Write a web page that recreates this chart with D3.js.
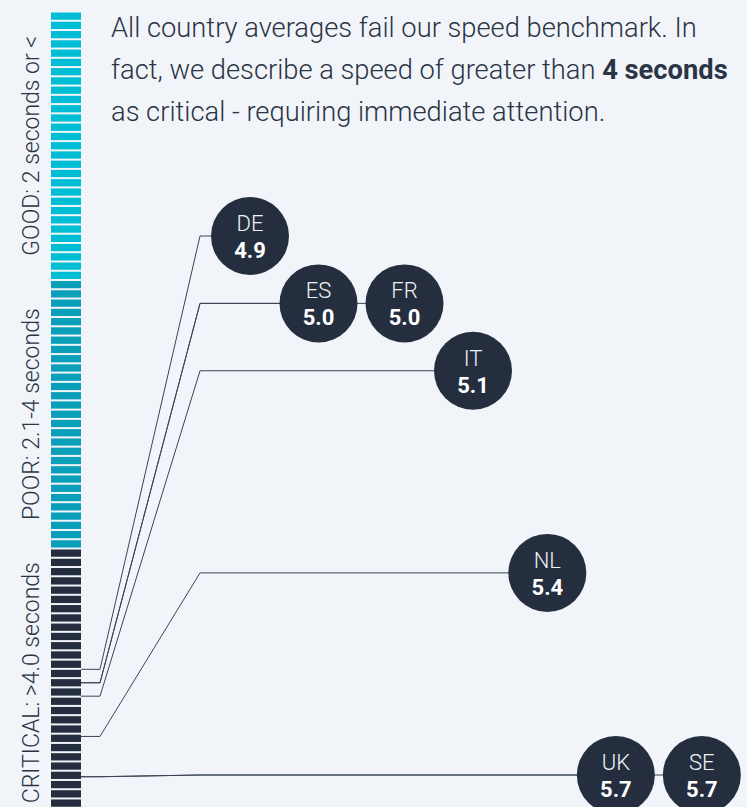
<!DOCTYPE html>
<html>
<head>
<meta charset="utf-8">
<script src="https://cdn.jsdelivr.net/npm/d3@7"></script>
<style>
  html, body { margin: 0; padding: 0; background: #f1f5f9; }
  svg { display: block; font-family: "Roboto Light", Roboto, "Noto Sans", sans-serif; }
</style>
</head>
<body>
<svg id="chart" width="747" height="807"></svg>
<script>
// ─── Data ──────────────────────────────────────
const countries = ['DE', 'ES', 'FR', 'IT', 'NL', 'UK', 'SE'];
const speeds    = [4.9, 5.0, 5.0, 5.1, 5.4, 5.7, 5.7];

const zoneLabels = ['GOOD: 2 seconds or <', 'POOR: 2.1-4 seconds', 'CRITICAL: >4.0 seconds'];
const zoneBounds = [0, 2, 4, 6];
const zoneColors = ['#00bdd6', '#099fb8', '#242e3e'];
const stripesPerZone = 29;

const titleLines = [
  [{ t: 'All country averages fail our speed benchmark. In', b: false }],
  [{ t: 'fact, we describe a speed of greater than ', b: false }, { t: '4 seconds', b: true }],
  [{ t: 'as critical - requiring immediate attention.', b: false }]
];

// ─── Setup ─────────────────────────────────────
const svg = d3.select('#chart');
const ink = '#2a3444';

// full seconds scale on the striped bar, and a zoomed scale for the bubbles
const yBar  = d3.scaleLinear().domain([0, 6]).range([11.5, 817]);
const yZoom = d3.scaleLinear().domain([4.9, 5.7]).range([236, 775]);
const xPos  = d3.scalePoint().domain(countries).range([250, 696]);

const barX = 51, barW = 30, r = 39, tieGap = 8;

// ─── Title ─────────────────────────────────────
const title = svg.append('text')
  .attr('x', 111)
  .attr('fill', ink)
  .style('font-size', '27.3px')
  .style('font-weight', 300);

titleLines.forEach((line, i) => {
  line.forEach((seg, j) => {
    const ts = title.append('tspan').text(seg.t)
      .style('font-family', seg.b ? 'Roboto, sans-serif' : null)
      .style('font-weight', seg.b ? 700 : 300);
    if (j === 0) ts.attr('x', 111).attr('y', 37 + i * 42);
  });
});

// ─── Striped bar ───────────────────────────────
const stripeStep = (zoneBounds[1] - zoneBounds[0]) / stripesPerZone;
const stripes = [];
zoneLabels.forEach((lab, zi) => {
  d3.range(stripesPerZone).forEach(j => {
    stripes.push({ v: zoneBounds[zi] + j * stripeStep, zone: zi });
  });
});
const stripePx = yBar(stripeStep) - yBar(0);

svg.append('g').selectAll('rect')
  .data(stripes)
  .enter().append('rect')
    .attr('x', barX)
    .attr('y', d => yBar(d.v) + 1)
    .attr('width', barW)
    .attr('height', stripePx - 2)
    .attr('fill', d => zoneColors[d.zone]);

// zone labels (rotated)
svg.append('g').selectAll('text')
  .data(zoneLabels)
  .enter().append('text')
    .attr('transform', (d, i) => {
      const cy = (yBar(zoneBounds[i]) + yBar(zoneBounds[i + 1])) / 2;
      return `translate(39,${cy}) rotate(-90)`;
    })
    .attr('text-anchor', 'middle')
    .attr('fill', ink)
    .style('font-size', '23px')
    .style('font-weight', 300)
    .text(d => d);

// ─── Bubble layout (tied values pushed apart) ──
const rows = countries.map((c, i) => ({ code: c, v: speeds[i], x: xPos(c) }));
d3.groups(rows, d => d.v).forEach(([v, grp]) => {
  if (grp.length < 2) return;
  const mid = d3.mean(grp, d => d.x),
        need = 2 * r + tieGap,
        step = Math.max(need, xPos.step());
  grp.forEach((d, k) => { d.x = mid + (k - (grp.length - 1) / 2) * step; });
});

// ─── Connectors ────────────────────────────────
const line = d3.line();

svg.append('g').selectAll('path')
  .data(rows)
  .enter().append('path')
    .attr('d', d => line([
      [barX + barW, yBar(d.v)],
      [100, yBar(d.v)],
      [200, yZoom(d.v)],
      [d.x, yZoom(d.v)]
    ]))
    .attr('fill', 'none')
    .attr('stroke', '#3b4556')
    .attr('stroke-width', 1);

// ─── Bubbles ───────────────────────────────────
const bub = svg.append('g').selectAll('g')
  .data(rows)
  .enter().append('g')
    .attr('transform', d => `translate(${d.x},${yZoom(d.v)})`);

bub.append('circle')
  .attr('r', r)
  .attr('fill', '#242e3e');

bub.append('text')
  .attr('y', -5)
  .attr('text-anchor', 'middle')
  .attr('fill', '#eef2f6')
  .style('font-size', '22px')
  .style('font-weight', 300)
  .text(d => d.code);

bub.append('text')
  .attr('y', 22)
  .attr('text-anchor', 'middle')
  .attr('fill', '#ffffff')
  .style('font-family', 'Roboto, sans-serif')
  .style('font-size', '22px')
  .style('font-weight', 700)
  .text(d => d.v.toFixed(1));
</script>
</body>
</html>
